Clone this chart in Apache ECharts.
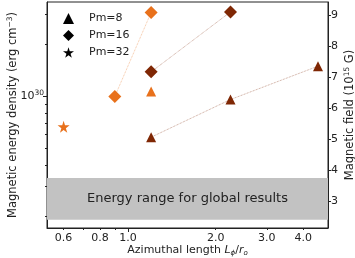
<!DOCTYPE html>
<html>
<head>
<meta charset="utf-8">
<script src="https://cdn.jsdelivr.net/npm/echarts@6/dist/echarts.min.js"></script>
<style>
  html, body { margin: 0; padding: 0; background: #fff; }
  #chart { width: 355px; height: 258px; }
</style>
</head>
<body>
<div id="chart"></div>
<script>
// [L_phi / r_o, magnetic energy density (erg cm^-3)]
const pm8Dark = [[1.2, 5.8e29], [2.25, 9.6e29], [4.5, 1.5e30]];
const pm8Orange = [[1.2, 1.07e30]];
const pm16Dark = [[1.2, 1.39e30], [2.25, 3.1e30]];
const pm16Orange = [[0.9, 1.0e30], [1.2, 3.08e30]];
const pm32Orange = [[0.6, 6.67e29]];

// range of the global runs (grey band)
const globalRange = [1.92e29, 3.36e29];

// ticks
const xTicks = [0.6, 0.7, 0.8, 0.9, 1, 2, 3, 4];
const xLabels = [0.6, 0.8, 1, 2, 3, 4];
const yMinorTicks = [2e29, 3e29, 4e29, 5e29, 6e29, 7e29, 8e29, 9e29, 2e30, 3e30];
const bTicks = [3, 4, 5, 6, 7, 8, 9];

const ORANGE = "#e8711c";
const DARK = "#7f2704";
const FONT = "DejaVu Sans";
const STAR = "path://M50,0 L61,35 L98,35 L68,57 L79,91 L50,70 L21,91 L32,57 L2,35 L39,35 Z";

const xMin = 0.526, xMax = 4.87;
const yMin = 1.72e29, yMax = 3.54e30;

const chart = echarts.init(document.getElementById("chart"));

function pts(name, data, color, symbol, size, withLine) {
  return {
    name,
    type: withLine ? "line" : "scatter",
    data,
    symbol,
    symbolSize: size,
    showSymbol: true,
    itemStyle: { color, opacity: 1 },
    lineStyle: withLine ? { color, width: 0.8, type: "dotted", opacity: 0.55 } : undefined,
    z: 5,
    animation: false
  };
}

const labelStyle = { fontFamily: FONT, fontSize: 11, color: "#222" };
const supRich = { sup: { fontFamily: FONT, fontSize: 7.5, color: "#222", verticalAlign: "top", padding: [0, 0, 6, 0] } };

chart.setOption({
  animation: false,
  textStyle: { fontFamily: FONT },
  grid: {
    left: 47, right: 27, top: 2, bottom: 30,
    outerBoundsMode: "none",
    show: true, borderColor: "#222", borderWidth: 1
  },
  legend: {
    left: 58,
    top: 8,
    orient: "vertical",
    itemGap: 6,
    itemWidth: 11,
    itemHeight: 11,
    textStyle: { fontFamily: FONT, fontSize: 11, color: "#222", padding: [0, 0, 0, 10] },
    data: [
      { name: "Pm=8", icon: "triangle", itemStyle: { color: "#000" } },
      { name: "Pm=16", icon: "diamond", itemStyle: { color: "#000" } },
      { name: "Pm=32", icon: STAR, itemStyle: { color: "#000" } }
    ]
  },
  xAxis: [
    {
      type: "log",
      logBase: 10,
      min: xMin,
      max: xMax,
      name: "Azimuthal length {it|L}{sub|ϕ}/{it|r}{sub|o}",
      nameLocation: "middle",
      nameGap: 16,
      nameMoveOverlap: false,
      nameTextStyle: {
        fontFamily: FONT, fontSize: 11, color: "#222",
        rich: {
          it: { fontFamily: FONT, fontSize: 11, fontStyle: "italic", color: "#222" },
          sub: { fontFamily: FONT, fontSize: 7, fontStyle: "italic", color: "#222", verticalAlign: "bottom", padding: [6, 0, 0, 0] }
        }
      },
      splitLine: { show: false },
      axisLine: { lineStyle: { color: "#222" } },
      axisTick: { customValues: xTicks, length: 2, lineStyle: { color: "#222" } },
      axisLabel: { customValues: xLabels, margin: 5, formatter: v => Number(v).toFixed(1), ...labelStyle }
    },
    {
      type: "log",
      min: xMin,
      max: xMax,
      position: "bottom",
      axisLine: { show: false },
      splitLine: { show: false },
      axisTick: { customValues: [1], length: 4, lineStyle: { color: "#222" } },
      axisLabel: { show: false }
    }
  ],
  yAxis: [
    {
      type: "log",
      logBase: 10,
      min: yMin,
      max: yMax,
      position: "left",
      name: "Magnetic energy density (erg cm{sup|−3})",
      nameLocation: "middle",
      nameGap: 27,
      nameMoveOverlap: false,
      nameTextStyle: { fontFamily: FONT, fontSize: 11.5, color: "#222", rich: supRich },
      splitLine: { show: false },
      axisLine: { lineStyle: { color: "#222" } },
      axisTick: { customValues: yMinorTicks, length: 2, lineStyle: { color: "#222" } },
      axisLabel: { show: false }
    },
    {
      type: "log",
      logBase: 10,
      min: yMin,
      max: yMax,
      position: "left",
      axisLine: { show: false },
      splitLine: { show: false },
      axisTick: { customValues: [1e30], length: 4, lineStyle: { color: "#222" } },
      axisLabel: {
        customValues: [1e30],
        margin: 3,
        formatter: () => "10{sup|30}",
        ...labelStyle,
        rich: supRich
      }
    },
    {
      type: "value",
      min: 2.13,
      max: 9.42,
      position: "right",
      name: "Magnetic field (10{sup|15} G)",
      nameLocation: "middle",
      nameGap: 15,
      nameRotate: 90,
      nameMoveOverlap: false,
      nameTextStyle: { fontFamily: FONT, fontSize: 11.5, color: "#222", rich: supRich },
      splitLine: { show: false },
      axisLine: { show: true, lineStyle: { color: "#222" } },
      axisTick: { show: true, customValues: bTicks, length: 3, lineStyle: { color: "#222" } },
      axisLabel: { customValues: bTicks, margin: 3, ...labelStyle }
    }
  ],
  series: [
    {
      type: "scatter",
      data: [],
      silent: true,
      markArea: {
        silent: true,
        itemStyle: { color: "#c2c2c2" },
        label: {
          show: true,
          position: "inside",
          formatter: "Energy range for global results",
          fontFamily: FONT, fontSize: 13, color: "#222"
        },
        data: [[{ yAxis: globalRange[0] }, { yAxis: globalRange[1] }]]
      }
    },
    pts("Pm=8", pm8Dark, DARK, "triangle", 10, true),
    pts("Pm=8", pm8Orange, ORANGE, "triangle", 10, false),
    pts("Pm=16", pm16Dark, DARK, "diamond", 13, true),
    pts("Pm=16", pm16Orange, ORANGE, "diamond", 13, true),
    pts("Pm=32", pm32Orange, ORANGE, STAR, 12, false)
  ]
});
</script>
</body>
</html>
